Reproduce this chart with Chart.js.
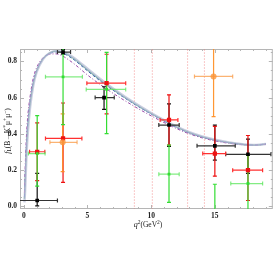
<!DOCTYPE html>
<html>
<head>
<meta charset="utf-8">
<script src="https://cdn.jsdelivr.net/npm/chart.js@4.4.1/dist/chart.umd.min.js"></script>
<style>
  html, body { margin: 0; padding: 0; background: #fff; }
  #wrap { width: 278px; height: 278px; }
</style>
</head>
<body>
<div id="wrap"><canvas id="flChart" width="278" height="278"></canvas></div>
<script>
// theory curves, f_L vs q^2
const curveQ = [0.05, 0.1, 0.2, 0.3, 0.5, 0.75, 1, 1.5, 2, 2.5, 3, 3.5, 4, 5, 6, 7, 8, 9, 10, 11, 12, 13, 14, 15, 16, 17, 18, 18.5, 19];
const bandF   = [0.02, 0.08, 0.26, 0.39, 0.55, 0.67, 0.74, 0.812, 0.845, 0.857, 0.855, 0.84, 0.817, 0.76, 0.703, 0.65, 0.602, 0.557, 0.515, 0.476, 0.44, 0.409, 0.385, 0.367, 0.353, 0.343, 0.338, 0.339, 0.343];
const greenF  = [0.04, 0.13, 0.31, 0.43, 0.57, 0.68, 0.745, 0.815, 0.846, 0.857, 0.853, 0.836, 0.812, 0.754, 0.698, 0.646, 0.598, 0.553, 0.512, 0.473, 0.437, 0.406, 0.382, 0.365, 0.352, 0.342, 0.337, 0.338, 0.342];
const blueF   = [0.05, 0.15, 0.33, 0.45, 0.585, 0.69, 0.75, 0.815, 0.843, 0.853, 0.848, 0.83, 0.806, 0.748, 0.692, 0.641, 0.594, 0.55, 0.509, 0.47, 0.434, 0.404, 0.381, 0.364, 0.351, 0.342, 0.337, 0.339, 0.343];
const purpleF = [0.07, 0.2, 0.38, 0.49, 0.61, 0.71, 0.765, 0.82, 0.84, 0.842, 0.832, 0.81, 0.784, 0.725, 0.672, 0.624, 0.58, 0.538, 0.499, 0.462, 0.428, 0.399, 0.377, 0.36, 0.348, 0.34, 0.336, 0.338, 0.342];

// charmonium veto lines
const vetoQ = [8.68, 10.09, 12.86, 14.18];

// measurements
const blkQ   = [1.05, 3.08, 6.3, 11.4, 15.0, 17.6];
const blkF   = [0.03, 0.852, 0.60, 0.448, 0.333, 0.286];
const blkQLo = [-0.4, 2.64, 5.6, 10.6, 13.6, 15.85];
const blkQHi = [2.64, 3.67, 7.1, 12.2, 16.6, 19.4];
const blkFLo = [0.0, 0.84, 0.535, 0.33, 0.254, 0.18];
const blkFHi = [0.18, 0.865, 0.66, 0.565, 0.448, 0.37];

const redQ   = [1.05, 3.08, 6.5, 11.4, 15.0, 17.6];
const redF   = [0.30, 0.374, 0.68, 0.476, 0.29, 0.198];
const redQLo = [0.45, 1.7, 4.95, 10.7, 14.05, 16.4];
const redQHi = [1.65, 4.56, 8.0, 12.1, 15.85, 18.75];
const redFLo = [0.14, 0.13, 0.51, 0.337, 0.165, 0.03];
const redFHi = [0.46, 0.57, 0.84, 0.615, 0.44, 0.39];

const grnQ   = [1.05, 3.08, 6.5, 11.4, 15.0, 17.6];
const grnF   = [0.29, 0.715, 0.645, 0.176, -0.04, 0.124];
const grnQLo = [0.36, 1.7, 4.9, 10.6, 14.2, 16.25];
const grnQHi = [1.67, 4.6, 8.0, 12.2, 15.8, 18.75];
const grnFLo = [0.11, 0.45, 0.40, 0.02, -0.2, -0.1];
const grnFHi = [0.50, 0.95, 0.85, 0.337, 0.12, 0.28];

const orgQ   = [3.05, 14.9];
const orgF   = [0.352, 0.717];
const orgQLo = [2.05, 13.4];
const orgQHi = [4.18, 16.4];
const orgFLo = [0.19, 0.495];
const orgFHi = [0.51, 1.0];

const xTicks = [0, 5, 10, 15];
const yTicks = [0, 0.2, 0.4, 0.6, 0.8];

const serif = '"Liberation Serif", "DejaVu Serif", serif';

function curve(vals, color, width, dash) {
    return {
        type: 'line',
        data: curveQ.map((q, i) => ({ x: q, y: vals[i] })),
        borderColor: color,
        borderWidth: width,
        borderDash: dash,
        pointRadius: 0,
        cubicInterpolationMode: 'monotone',
        order: 3
    };
}

// error bars as short line segments with caps, plus a marker dataset
function errorSets(q, f, qLo, qHi, fLo, fHi, barColor, hColor, markColor, markStyle, markR) {
    const out = [];
    for (let i = 0; i < q.length; i++) {
        out.push({
            type: 'line',
            data: [{ x: q[i], y: fLo[i] }, { x: q[i], y: fHi[i] }],
            borderColor: barColor, borderWidth: 1.2,
            pointStyle: 'line', pointRadius: 2, pointBorderColor: barColor, pointBorderWidth: 1.2,
            order: 1
        });
        out.push({
            type: 'line',
            data: [{ x: qLo[i], y: f[i] }, { x: qHi[i], y: f[i] }],
            borderColor: hColor, borderWidth: 1.2,
            pointStyle: 'line', pointRotation: 90, pointRadius: 2, pointBorderColor: hColor, pointBorderWidth: 1.2,
            order: 1
        });
    }
    out.push({
        type: 'scatter',
        data: q.map((v, i) => ({ x: v, y: f[i] })),
        pointStyle: markStyle,
        pointRadius: markR,
        backgroundColor: markColor,
        borderColor: markColor,
        borderWidth: 0,
        order: 0
    });
    return out;
}

const datasets = [];
vetoQ.forEach(q => datasets.push({
    type: 'line',
    data: [{ x: q, y: -0.02 }, { x: q, y: 0.87 }],
    borderColor: 'rgba(240,110,110,0.75)',
    borderWidth: 1,
    borderDash: [1, 2],
    pointRadius: 0,
    order: 4
}));
datasets.push(curve(bandF, 'rgba(185,190,215,0.75)', 2.4, []));
datasets.push(curve(purpleF, '#9a4aa8', 1, [3, 2, 1, 2]));
datasets.push(curve(blueF, '#4060b0', 1, [3, 2]));
datasets.push(curve(greenF, '#46a07a', 1.2, []));
datasets.push(...errorSets(grnQ, grnF, grnQLo, grnQHi, grnFLo, grnFHi, '#33dd33', 'rgba(90,230,90,0.75)', '#33dd33', 'rect', 2));
datasets.push(...errorSets(orgQ, orgF, orgQLo, orgQHi, orgFLo, orgFHi, 'rgba(255,140,30,0.9)', 'rgba(250,160,80,0.8)', 'rgba(250,150,60,0.8)', 'circle', 3));
datasets.push(...errorSets(redQ, redF, redQLo, redQHi, redFLo, redFHi, '#ee1111', '#ff3030', '#ee1111', 'rect', 3));
datasets.push(...errorSets(blkQ, blkF, blkQLo, blkQHi, blkFLo, blkFHi, '#111111', '#333333', '#000000', 'rect', 2.6));

// frame with inward major/minor ticks on all sides
const framePlugin = {
    id: 'frame',
    beforeDatasetsDraw(chart) {
        const { ctx, chartArea: a, scales: { x, y } } = chart;
        ctx.save();
        ctx.strokeStyle = '#b5b5b5';
        ctx.lineWidth = 1;
        ctx.strokeRect(a.left + 0.5, a.top + 0.5, a.right - a.left - 1, a.bottom - a.top - 1);
        ctx.beginPath();
        for (let v = 0; v <= 19; v += 1) {
            const px = Math.round(x.getPixelForValue(v)) + 0.5;
            const len = v % 5 === 0 ? 4 : 2;
            ctx.moveTo(px, a.bottom); ctx.lineTo(px, a.bottom - len);
            ctx.moveTo(px, a.top); ctx.lineTo(px, a.top + len);
        }
        for (let k = 0; k <= 17; k++) {
            const v = k * 0.05;
            const py = Math.round(y.getPixelForValue(v)) + 0.5;
            const len = k % 4 === 0 ? 4 : 2;
            ctx.moveTo(a.left, py); ctx.lineTo(a.left + len, py);
            ctx.moveTo(a.right, py); ctx.lineTo(a.right - len, py);
        }
        ctx.stroke();
        ctx.restore();
    }
};

// axis titles with sub/superscripts
function drawPieces(ctx, pieces, cx, cy) {
    let w = 0;
    pieces.forEach(p => { ctx.font = p.f; w += ctx.measureText(p.t).width; });
    let xx = cx - w / 2;
    pieces.forEach(p => {
        ctx.font = p.f;
        ctx.fillText(p.t, xx, cy + (p.dy || 0));
        xx += ctx.measureText(p.t).width;
    });
}

const titlePlugin = {
    id: 'titles',
    afterDraw(chart) {
        const ctx = chart.ctx;
        ctx.save();
        ctx.fillStyle = '#222';
        ctx.textBaseline = 'middle';
        const n = '7.5px ' + serif, it = 'italic 8px ' + serif, s = '5.5px ' + serif;
        drawPieces(ctx, [
            { t: 'q', f: it }, { t: '2', f: s, dy: -2.5 },
            { t: '(GeV', f: n }, { t: '2', f: s, dy: -2.5 }, { t: ')', f: n }
        ], 148, 225);
        ctx.translate(8, 131);
        ctx.rotate(-Math.PI / 2);
        drawPieces(ctx, [
            { t: 'f', f: it }, { t: 'L', f: s, dy: 2 },
            { t: '(B\u2192K', f: n }, { t: '*', f: s, dy: -2.5 },
            { t: '\u03bc', f: n }, { t: '+', f: s, dy: -2.5 },
            { t: '\u03bc', f: n }, { t: '\u2212', f: s, dy: -2.5 }, { t: ')', f: n }
        ], 0, 0);
        ctx.restore();
    }
};

new Chart(document.getElementById('flChart').getContext('2d'), {
    data: { datasets: datasets },
    options: {
        responsive: false,
        animation: false,
        layout: { padding: { top: 49, right: 0, left: 0, bottom: 0 } },
        plugins: { legend: { display: false }, tooltip: { enabled: false } },
        scales: {
            x: {
                type: 'linear',
                min: -0.3,
                max: 19.55,
                grid: { display: false, drawTicks: false },
                border: { display: false },
                afterBuildTicks: s => { s.ticks = xTicks.map(v => ({ value: v })); },
                afterFit: s => { s.height = 69; },
                ticks: {
                    color: '#222',
                    padding: 3,
                    maxRotation: 0,
                    font: { family: serif, size: 7.5, weight: 'bold' },
                    callback: v => String(v)
                }
            },
            y: {
                type: 'linear',
                min: -0.017,
                max: 0.869,
                grid: { display: false, drawTicks: false },
                border: { display: false },
                afterBuildTicks: s => { s.ticks = yTicks.map(v => ({ value: v })); },
                afterFit: s => { s.width = 20; },
                ticks: {
                    color: '#222',
                    padding: 3,
                    font: { family: serif, size: 7.5, weight: 'bold' },
                    callback: v => v.toFixed(1)
                }
            }
        }
    },
    plugins: [framePlugin, titlePlugin]
});
</script>
</body>
</html>
